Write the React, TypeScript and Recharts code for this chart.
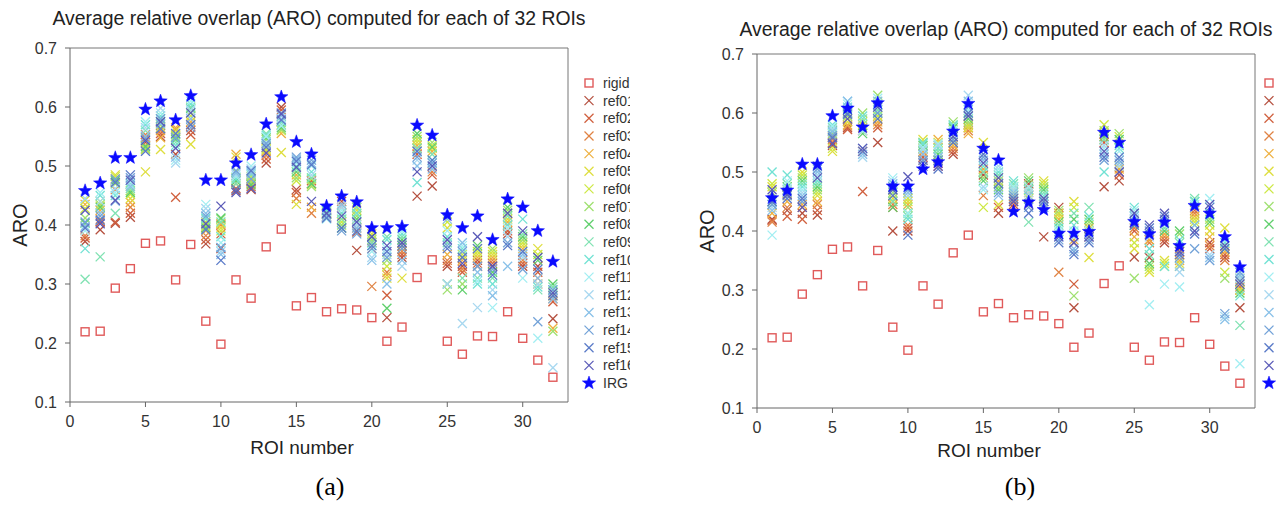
import { ScatterChart, Scatter, XAxis, YAxis, ReferenceLine } from 'recharts';

const FONT = '"Liberation Sans", Arial, sans-serif';
const TITLE = 'Average relative overlap (ARO) computed for each of 32 ROIs';

const ROIS = Array.from({ length: 32 }, (_, i) => i + 1);
const X_TICKS = [0, 5, 10, 15, 20, 25, 30];
const Y_TICKS = [0.1, 0.2, 0.3, 0.4, 0.5, 0.6, 0.7];

const REF_NAMES = ['ref01', 'ref02', 'ref03', 'ref04', 'ref05', 'ref06', 'ref07', 'ref08',
  'ref09', 'ref10', 'ref11', 'ref12', 'ref13', 'ref14', 'ref15', 'ref16'];
const REF_COLORS = ['#b5503f', '#d0603e', '#e08344', '#eeb040', '#dede3e', '#cde844', '#9fe070', '#5fcf6c',
  '#80e2b2', '#72e2d4', '#a2eef2', '#a8d8f0', '#88c0e8', '#72a2d8', '#5a7ac8', '#5a5ab8'];
const RIGID_COLOR = '#e05a5a';
const IRG_COLOR = '#0a0aff';

// rigid registration, same for both panels
const RIGID = [0.219, 0.220, 0.293, 0.326, 0.369, 0.373, 0.307, 0.367, 0.237, 0.198, 0.307, 0.276, 0.363, 0.393, 0.263, 0.277,
  0.253, 0.258, 0.256, 0.243, 0.203, 0.227, 0.311, 0.341, 0.203, 0.181, 0.212, 0.211, 0.253, 0.208, 0.171, 0.142];

const IRG_A = [0.458, 0.471, 0.514, 0.514, 0.596, 0.610, 0.578, 0.619, 0.476, 0.476, 0.505, 0.519, 0.571, 0.617, 0.541, 0.520,
  0.432, 0.449, 0.439, 0.395, 0.395, 0.397, 0.569, 0.552, 0.417, 0.395, 0.415, 0.375, 0.444, 0.430, 0.390, 0.338];
const IRG_B = [0.456, 0.469, 0.513, 0.513, 0.595, 0.608, 0.576, 0.617, 0.476, 0.476, 0.505, 0.517, 0.569, 0.616, 0.540, 0.520,
  0.433, 0.449, 0.436, 0.396, 0.396, 0.399, 0.567, 0.550, 0.416, 0.395, 0.415, 0.375, 0.443, 0.430, 0.390, 0.339];

// one row per ROI, values for ref01..ref16
const REFS_A = [
  [0.372, 0.378, 0.382, 0.435, 0.442, 0.428, 0.412, 0.403, 0.308, 0.36, 0.39, 0.445, 0.398, 0.405, 0.395, 0.425],
  [0.392, 0.405, 0.41, 0.425, 0.432, 0.44, 0.435, 0.43, 0.346, 0.45, 0.455, 0.44, 0.42, 0.415, 0.408, 0.402],
  [0.403, 0.405, 0.46, 0.478, 0.485, 0.482, 0.47, 0.475, 0.42, 0.45, 0.455, 0.462, 0.44, 0.478, 0.472, 0.442],
  [0.413, 0.42, 0.43, 0.438, 0.445, 0.452, 0.458, 0.455, 0.462, 0.47, 0.475, 0.468, 0.465, 0.48, 0.485, 0.476],
  [0.54, 0.548, 0.553, 0.535, 0.49, 0.528, 0.53, 0.533, 0.56, 0.57, 0.575, 0.565, 0.55, 0.545, 0.525, 0.543],
  [0.55, 0.555, 0.56, 0.548, 0.528, 0.565, 0.57, 0.575, 0.58, 0.585, 0.59, 0.598, 0.572, 0.58, 0.563, 0.575],
  [0.52, 0.447, 0.562, 0.565, 0.56, 0.553, 0.55, 0.545, 0.54, 0.535, 0.51, 0.505, 0.515, 0.548, 0.555, 0.53],
  [0.56, 0.553, 0.57, 0.575, 0.537, 0.585, 0.59, 0.598, 0.6, 0.605, 0.61, 0.595, 0.58, 0.565, 0.57, 0.59],
  [0.368, 0.375, 0.382, 0.39, 0.398, 0.405, 0.4, 0.395, 0.41, 0.412, 0.435, 0.428, 0.42, 0.415, 0.392, 0.402],
  [0.36, 0.385, 0.4, 0.402, 0.395, 0.39, 0.41, 0.412, 0.405, 0.38, 0.37, 0.355, 0.35, 0.362, 0.34, 0.432],
  [0.458, 0.462, 0.47, 0.52, 0.515, 0.49, 0.48, 0.475, 0.47, 0.478, 0.482, 0.485, 0.488, 0.492, 0.46, 0.455],
  [0.46, 0.465, 0.47, 0.475, 0.478, 0.482, 0.472, 0.468, 0.485, 0.49, 0.5, 0.495, 0.488, 0.478, 0.492, 0.462],
  [0.505, 0.512, 0.518, 0.525, 0.53, 0.528, 0.545, 0.548, 0.555, 0.552, 0.55, 0.54, 0.535, 0.538, 0.532, 0.522],
  [0.6, 0.595, 0.575, 0.555, 0.523, 0.56, 0.562, 0.565, 0.57, 0.575, 0.568, 0.58, 0.585, 0.59, 0.578, 0.588],
  [0.46, 0.455, 0.445, 0.485, 0.435, 0.475, 0.48, 0.49, 0.495, 0.5, 0.505, 0.51, 0.512, 0.515, 0.508, 0.498],
  [0.47, 0.475, 0.42, 0.43, 0.468, 0.478, 0.465, 0.47, 0.48, 0.49, 0.5, 0.485, 0.505, 0.51, 0.502, 0.44],
  [0.412, 0.415, 0.418, 0.42, 0.422, 0.425, 0.42, 0.418, 0.422, 0.425, 0.41, 0.415, 0.413, 0.418, 0.412, 0.42],
  [0.44, 0.435, 0.43, 0.42, 0.41, 0.405, 0.4, 0.395, 0.41, 0.42, 0.425, 0.43, 0.435, 0.39, 0.395, 0.415],
  [0.357, 0.388, 0.395, 0.43, 0.425, 0.42, 0.415, 0.41, 0.43, 0.42, 0.405, 0.4, 0.395, 0.385, 0.39, 0.405],
  [0.36, 0.37, 0.296, 0.38, 0.385, 0.39, 0.375, 0.38, 0.37, 0.365, 0.355, 0.345, 0.34, 0.36, 0.365, 0.38],
  [0.243, 0.281, 0.32, 0.315, 0.31, 0.33, 0.34, 0.259, 0.38, 0.375, 0.36, 0.35, 0.3, 0.345, 0.355, 0.365],
  [0.345, 0.35, 0.355, 0.36, 0.31, 0.365, 0.37, 0.375, 0.38, 0.385, 0.39, 0.33, 0.34, 0.36, 0.365, 0.37],
  [0.449, 0.52, 0.53, 0.535, 0.54, 0.545, 0.55, 0.555, 0.53, 0.472, 0.525, 0.51, 0.5, 0.515, 0.525, 0.49],
  [0.466, 0.485, 0.49, 0.525, 0.53, 0.535, 0.54, 0.532, 0.52, 0.51, 0.505, 0.5, 0.495, 0.505, 0.51, 0.5],
  [0.33, 0.335, 0.34, 0.35, 0.395, 0.405, 0.29, 0.3, 0.37, 0.38, 0.39, 0.3, 0.41, 0.365, 0.36, 0.375],
  [0.33, 0.32, 0.325, 0.34, 0.345, 0.35, 0.3, 0.29, 0.31, 0.36, 0.365, 0.233, 0.37, 0.355, 0.345, 0.335],
  [0.34, 0.335, 0.33, 0.345, 0.35, 0.355, 0.36, 0.365, 0.31, 0.3, 0.305, 0.26, 0.32, 0.33, 0.36, 0.38],
  [0.33, 0.335, 0.34, 0.345, 0.35, 0.355, 0.36, 0.32, 0.31, 0.3, 0.26, 0.29, 0.28, 0.325, 0.315, 0.33],
  [0.385, 0.39, 0.4, 0.405, 0.41, 0.42, 0.425, 0.43, 0.415, 0.4, 0.395, 0.38, 0.33, 0.37, 0.365, 0.42],
  [0.33, 0.335, 0.34, 0.36, 0.365, 0.37, 0.375, 0.38, 0.385, 0.41, 0.31, 0.345, 0.35, 0.325, 0.355, 0.39],
  [0.33, 0.32, 0.31, 0.3, 0.36, 0.35, 0.345, 0.34, 0.29, 0.295, 0.208, 0.3, 0.31, 0.236, 0.325, 0.345],
  [0.241, 0.27, 0.275, 0.225, 0.28, 0.285, 0.22, 0.3, 0.295, 0.29, 0.285, 0.158, 0.275, 0.29, 0.28, 0.285],
];

const REFS_B = [
  [0.42, 0.418, 0.415, 0.43, 0.475, 0.48, 0.465, 0.45, 0.445, 0.5, 0.393, 0.44, 0.435, 0.445, 0.45, 0.47],
  [0.435, 0.425, 0.44, 0.45, 0.46, 0.465, 0.47, 0.475, 0.48, 0.495, 0.485, 0.47, 0.465, 0.46, 0.455, 0.462],
  [0.43, 0.42, 0.44, 0.445, 0.5, 0.495, 0.49, 0.485, 0.48, 0.475, 0.47, 0.465, 0.46, 0.45, 0.455, 0.44],
  [0.427, 0.435, 0.445, 0.45, 0.46, 0.465, 0.47, 0.475, 0.48, 0.485, 0.49, 0.495, 0.5, 0.505, 0.51, 0.49],
  [0.545, 0.55, 0.555, 0.56, 0.535, 0.54, 0.565, 0.57, 0.575, 0.58, 0.578, 0.572, 0.568, 0.562, 0.558, 0.548],
  [0.575, 0.572, 0.578, 0.58, 0.585, 0.59, 0.595, 0.6, 0.605, 0.61, 0.615, 0.62, 0.62, 0.6, 0.598, 0.59],
  [0.535, 0.467, 0.57, 0.575, 0.58, 0.585, 0.6, 0.565, 0.59, 0.595, 0.57, 0.525, 0.53, 0.54, 0.535, 0.54],
  [0.55, 0.575, 0.58, 0.585, 0.59, 0.595, 0.63, 0.6, 0.605, 0.61, 0.625, 0.615, 0.62, 0.6, 0.59, 0.61],
  [0.4, 0.44, 0.445, 0.45, 0.455, 0.46, 0.465, 0.44, 0.45, 0.47, 0.49, 0.485, 0.48, 0.475, 0.46, 0.47],
  [0.4, 0.405, 0.41, 0.445, 0.45, 0.455, 0.44, 0.43, 0.425, 0.42, 0.43, 0.46, 0.465, 0.47, 0.393, 0.492],
  [0.52, 0.525, 0.53, 0.535, 0.555, 0.55, 0.54, 0.545, 0.55, 0.548, 0.542, 0.538, 0.53, 0.52, 0.515, 0.51],
  [0.51, 0.515, 0.52, 0.555, 0.55, 0.54, 0.545, 0.53, 0.535, 0.54, 0.548, 0.545, 0.525, 0.52, 0.505, 0.51],
  [0.53, 0.535, 0.54, 0.545, 0.55, 0.555, 0.585, 0.575, 0.58, 0.578, 0.57, 0.565, 0.56, 0.555, 0.55, 0.56],
  [0.58, 0.575, 0.57, 0.565, 0.575, 0.58, 0.585, 0.59, 0.595, 0.6, 0.605, 0.63, 0.62, 0.61, 0.6, 0.595],
  [0.495, 0.5, 0.46, 0.505, 0.55, 0.44, 0.49, 0.485, 0.5, 0.51, 0.47, 0.475, 0.52, 0.525, 0.53, 0.515],
  [0.43, 0.44, 0.48, 0.485, 0.445, 0.49, 0.475, 0.47, 0.495, 0.5, 0.505, 0.51, 0.46, 0.465, 0.48, 0.49],
  [0.44, 0.445, 0.45, 0.455, 0.46, 0.465, 0.47, 0.475, 0.48, 0.485, 0.475, 0.47, 0.465, 0.46, 0.455, 0.45],
  [0.48, 0.475, 0.47, 0.465, 0.46, 0.455, 0.49, 0.485, 0.415, 0.47, 0.475, 0.465, 0.46, 0.44, 0.43, 0.445],
  [0.39, 0.445, 0.45, 0.455, 0.485, 0.48, 0.475, 0.47, 0.465, 0.46, 0.455, 0.45, 0.445, 0.44, 0.45, 0.455],
  [0.44, 0.43, 0.33, 0.42, 0.425, 0.43, 0.435, 0.415, 0.41, 0.405, 0.4, 0.395, 0.39, 0.385, 0.38, 0.39],
  [0.27, 0.31, 0.38, 0.385, 0.45, 0.44, 0.29, 0.42, 0.43, 0.41, 0.4, 0.39, 0.37, 0.365, 0.36, 0.38],
  [0.39, 0.395, 0.4, 0.405, 0.355, 0.41, 0.415, 0.42, 0.44, 0.425, 0.4, 0.395, 0.39, 0.385, 0.38, 0.39],
  [0.475, 0.55, 0.555, 0.56, 0.565, 0.58, 0.57, 0.56, 0.555, 0.5, 0.54, 0.545, 0.53, 0.52, 0.525, 0.535],
  [0.485, 0.495, 0.5, 0.505, 0.51, 0.56, 0.565, 0.555, 0.545, 0.54, 0.535, 0.51, 0.515, 0.52, 0.525, 0.5],
  [0.356, 0.4, 0.405, 0.39, 0.37, 0.38, 0.32, 0.41, 0.43, 0.44, 0.435, 0.42, 0.425, 0.415, 0.41, 0.43],
  [0.355, 0.385, 0.38, 0.385, 0.33, 0.335, 0.34, 0.345, 0.36, 0.37, 0.275, 0.39, 0.395, 0.4, 0.405, 0.41],
  [0.38, 0.385, 0.39, 0.395, 0.35, 0.345, 0.34, 0.4, 0.405, 0.34, 0.31, 0.41, 0.415, 0.42, 0.425, 0.43],
  [0.36, 0.365, 0.37, 0.35, 0.345, 0.34, 0.395, 0.4, 0.38, 0.385, 0.305, 0.33, 0.34, 0.355, 0.36, 0.365],
  [0.44, 0.435, 0.43, 0.425, 0.42, 0.415, 0.41, 0.45, 0.455, 0.45, 0.445, 0.44, 0.41, 0.37, 0.395, 0.4],
  [0.38, 0.37, 0.375, 0.39, 0.4, 0.41, 0.42, 0.415, 0.425, 0.43, 0.455, 0.36, 0.355, 0.35, 0.44, 0.445],
  [0.355, 0.36, 0.35, 0.365, 0.405, 0.33, 0.32, 0.37, 0.375, 0.38, 0.385, 0.255, 0.25, 0.26, 0.37, 0.375],
  [0.27, 0.3, 0.305, 0.31, 0.315, 0.3, 0.32, 0.295, 0.24, 0.29, 0.175, 0.32, 0.325, 0.33, 0.315, 0.31],
];

const XMark = ({ cx, cy, color }: any) => (
  <g stroke={color} strokeWidth={1.3} fill="none">
    <line x1={cx - 4.5} y1={cy - 4.5} x2={cx + 4.5} y2={cy + 4.5} />
    <line x1={cx - 4.5} y1={cy + 4.5} x2={cx + 4.5} y2={cy - 4.5} />
  </g>
);

const SquareMark = ({ cx, cy }: any) => (
  <rect x={cx - 4} y={cy - 4} width={8} height={8} fill="none" stroke={RIGID_COLOR} strokeWidth={1.4} />
);

const starPath = (cx: number, cy: number) => {
  const pts: string[] = [];
  for (let i = 0; i < 10; i++) {
    const r = i % 2 === 0 ? 7 : 2.9;
    const a = -Math.PI / 2 + (i * Math.PI) / 5;
    pts.push(`${(cx + r * Math.cos(a)).toFixed(2)},${(cy + r * Math.sin(a)).toFixed(2)}`);
  }
  return `M${pts.join('L')}Z`;
};

const StarMark = ({ cx, cy }: any) => <path d={starPath(cx, cy)} fill={IRG_COLOR} stroke={IRG_COLOR} strokeWidth={0.5} />;

const toPoints = (vals: number[]) => ROIS.map((x, i) => ({ x, y: vals[i] }));

function Legend({ left, width }: { left: number; width: number }) {
  const step = 17.65;
  return (
    <svg style={{ position: 'absolute', left, top: 74, overflow: 'hidden' }} width={width} height={320}>
      <g transform="translate(0,9)">
        <SquareMark cx={9} cy={0} />
        <text x={23} y={5} fontSize={14} fontFamily={FONT} fill="#333">rigid</text>
        {REF_NAMES.map((n, i) => (
          <g key={n}>
            <XMark cx={9} cy={(i + 1) * step} color={REF_COLORS[i]} />
            <text x={23} y={(i + 1) * step + 5} fontSize={14} fontFamily={FONT} fill="#333">{n}</text>
          </g>
        ))}
        <StarMark cx={9} cy={17 * step} />
        <text x={23} y={17 * step + 5} fontSize={14} fontFamily={FONT} fill="#333">IRG</text>
      </g>
    </svg>
  );
}

function Panel({ left, marginLeft, plotTop, refs, irg, titleDy, xLabelDy }: any) {
  const plotW = 498;
  return (
    <div style={{ position: 'absolute', left, top: 0 }}>
      <ScatterChart width={marginLeft + 70 + plotW + 20} height={plotTop + 354 + 60}
        margin={{ top: plotTop, right: 20, bottom: 0, left: marginLeft }}>
        <XAxis dataKey="x" type="number" domain={[0, 33]} ticks={X_TICKS} height={60}
          stroke="#666" tickSize={5} tickMargin={9}
          tick={{ fontSize: 16, fill: '#333', fontFamily: FONT }}
          label={{
            content: ({ viewBox }: any) => (
              <text x={viewBox.x + viewBox.width / 2 - 17} y={viewBox.y + xLabelDy} textAnchor="middle"
                fontSize={19} fontFamily={FONT} fill="#222">ROI number</text>
            ),
          }} />
        <YAxis dataKey="y" type="number" domain={[0.1, 0.7]} ticks={Y_TICKS} width={70}
          stroke="#666" tickSize={5} tickMargin={8} allowDataOverflow
          tick={{ fontSize: 16, fill: '#333', fontFamily: FONT }}
          tickFormatter={(v: number) => v.toFixed(1)}
          label={{
            content: ({ viewBox }: any) => {
              const cx = viewBox.x + 20;
              const cy = viewBox.y + viewBox.height / 2;
              return (
                <text x={cx} y={cy} transform={`rotate(-90 ${cx} ${cy})`} textAnchor="middle"
                  dominantBaseline="central" fontSize={20} fontFamily={FONT} fill="#222">ARO</text>
              );
            },
          }} />
        <ReferenceLine y={0.7} stroke="#777"
          label={{
            content: ({ viewBox }: any) => (
              <text x={viewBox.x + viewBox.width / 2} y={viewBox.y + titleDy} textAnchor="middle"
                fontSize={19.4} fontFamily={FONT} fill="#222">{TITLE}</text>
            ),
          }} />
        <ReferenceLine x={33} stroke="#777" />
        <Scatter name="rigid" data={toPoints(RIGID)} shape={(p: any) => <SquareMark cx={p.cx} cy={p.cy} />}
          isAnimationActive={false} />
        {REF_NAMES.map((n, k) => (
          <Scatter key={n} name={n} data={toPoints(refs.map((row: number[]) => row[k]))}
            shape={(p: any) => <XMark cx={p.cx} cy={p.cy} color={REF_COLORS[k]} />}
            isAnimationActive={false} />
        ))}
        <Scatter name="IRG" data={toPoints(irg)} shape={(p: any) => <StarMark cx={p.cx} cy={p.cy} />}
          isAnimationActive={false} />
      </ScatterChart>
    </div>
  );
}

const SERIF = '"Liberation Serif", "DejaVu Serif", serif';

export default function App() {
  return (
    <div style={{ position: 'absolute', left: 0, top: 0, width: 1287, height: 508, overflow: 'hidden', background: '#fff' }}>
      <Panel left={0} plotTop={48} marginLeft={0} refs={REFS_A} irg={IRG_A} titleDy={-23} xLabelDy={52} />
      <Panel left={640} plotTop={54} marginLeft={47} refs={REFS_B} irg={IRG_B} titleDy={-18} xLabelDy={49} />
      <Legend left={580} width={50} />
      <Legend left={1260} width={20} />
      <div style={{ position: 'absolute', left: 0, top: 472, width: 660, textAlign: 'center', fontFamily: SERIF, fontSize: 26 }}>(a)</div>
      <div style={{ position: 'absolute', left: 660, top: 472, width: 720, textAlign: 'center', fontFamily: SERIF, fontSize: 26 }}>(b)</div>
    </div>
  );
}
